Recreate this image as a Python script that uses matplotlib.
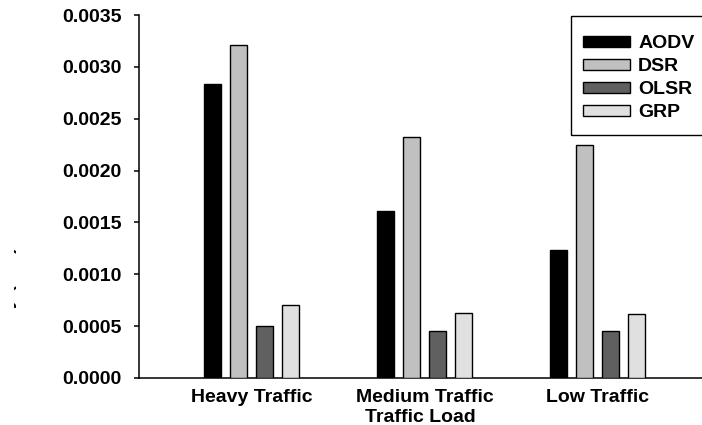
import numpy as np
import matplotlib
matplotlib.use("Agg")
import matplotlib.pyplot as plt
from matplotlib.patches import Rectangle
from matplotlib.transforms import Bbox

plt.rcParams["font.family"] = ["Liberation Sans", "DejaVu Sans"]
plt.rcParams["font.weight"] = "bold"

# Data
categories = ["Heavy Traffic", "Medium Traffic", "Low Traffic"]
protocols = ["AODV", "DSR", "OLSR", "GRP"]
aodv = [0.00283, 0.00161, 0.00123]
dsr = [0.00321, 0.00232, 0.00225]
olsr = [0.00050, 0.00045, 0.00045]
grp = [0.00070, 0.00063, 0.00062]
yticks = [0.0, 0.0005, 0.0010, 0.0015, 0.0020, 0.0025, 0.0030, 0.0035]

series = [aodv, dsr, olsr, grp]
colors = ["#000000", "#c0c0c0", "#606060", "#e0e0e0"]

W, H = 702, 425
fig = plt.figure(figsize=(W / 100, H / 100), dpi=100)
ax = fig.add_axes([139 / W, 47 / H, (W - 139) / W, 363 / H])

x = np.arange(len(categories))
width = 0.098
step = 0.150
offsets = [-1.5 * step, -0.5 * step, 0.5 * step, 1.5 * step]
for vals, col, off, name in zip(series, colors, offsets, protocols):
    ax.bar(x + off, vals, width, color=col, edgecolor="black",
           linewidth=1.0, label=name, zorder=3)

ax.set_xlim(-0.651, 2.606)
ax.set_ylim(0, 0.0035)
ax.set_yticks(yticks)
ax.set_yticklabels([f"{v:.4f}" for v in yticks])
ax.set_xticks(x)
ax.set_xticklabels(categories)

for s in ["top", "right"]:
    ax.spines[s].set_visible(False)
for s in ["left", "bottom"]:
    ax.spines[s].set_linewidth(1.1)

ax.tick_params(axis="y", length=3.6, width=1.1, pad=8.9, labelsize=14)
ax.tick_params(axis="x", length=0, pad=8.0, labelsize=14)
ax.set_xlabel("Traffic Load", fontsize=14, fontweight="bold", labelpad=2.4)

# Legend entries without their own frame; the box is drawn separately
leg = ax.legend(loc="upper left", bbox_to_anchor=(583 / W, 1 - 35.2 / H),
                bbox_transform=fig.transFigure, borderaxespad=0,
                fontsize=14, handlelength=2.42, handleheight=0.49,
                handletextpad=0.41, labelspacing=0.31, borderpad=0,
                frameon=False)
for t in leg.get_texts():
    t.set_fontweight("bold")
fig.patches.append(Rectangle((571 / W, 1 - 135 / H), 150 / W, 119 / H,
                             transform=fig.transFigure, fill=False,
                             edgecolor="black", linewidth=1.0, zorder=4))

# y-axis title, only its right edge lies inside the canvas
ylab = fig.text(13.3 / W, 1 - 298 / H, "Delay (sec)", rotation=90,
                rotation_mode="anchor", ha="center", va="baseline",
                fontsize=14, fontweight="bold")
ylab.set_clip_box(Bbox.from_extents(13.6, 0, W, H))
ylab.set_clip_on(True)

fig.savefig("out.png", dpi=100)
